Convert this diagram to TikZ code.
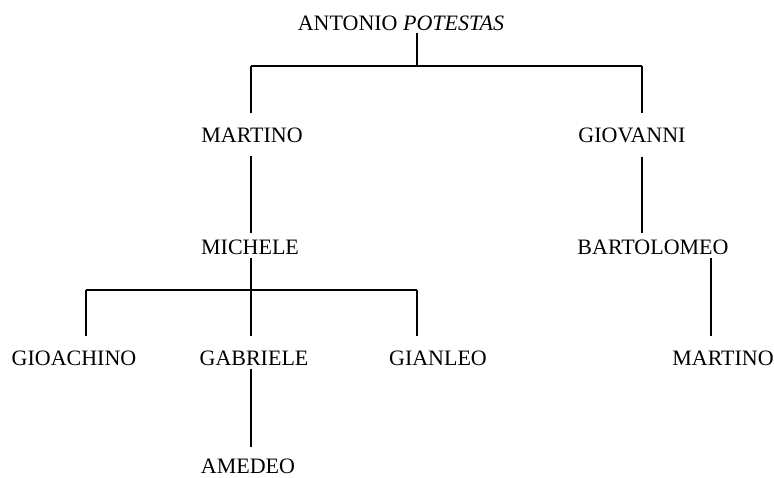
\documentclass[tikz,border=0pt]{standalone}
\usepackage{fontspec}
\setmainfont{Liberation Serif}
\begin{document}
\begin{tikzpicture}[x=1pt,y=-1pt,
  person/.style={font=\fontsize{22}{26}\selectfont, inner sep=0pt, anchor=base},
  link/.style={line width=1.3pt}]
\useasboundingbox (0,0) rectangle (774,477);

% family members
\node[person] (antonio)    at (401,30)  {ANTONIO \textit{POTESTAS}};
\node[person] (martinoA)   at (252,142) {MARTINO};
\node[person] (giovanni)   at (632,142) {GIOVANNI};
\node[person] (michele)    at (250,254) {MICHELE};
\node[person] (bartolomeo) at (653,254) {BARTOLOMEO};
\node[person] (gioachino)  at (74,365)  {GIOACHINO};
\node[person] (gabriele)   at (254,365) {GABRIELE};
\node[person] (gianleo)    at (438,365) {GIANLEO};
\node[person] (martinoB)   at (723,365) {MARTINO};
\node[person] (amedeo)     at (248,473.5) {AMEDEO};

% junction points of the branches
\coordinate (jTop)  at (417,66);
\coordinate (jTopL) at (251,66);
\coordinate (jTopR) at (642,66);
\coordinate (jMid)  at (251,290);
\coordinate (jMidL) at (86,290);
\coordinate (jMidR) at (417,290);
\coordinate (colB)  at (711,290);

% Antonio's sons
\draw[link] ([yshift=-3pt]antonio.south -| jTop) -- (jTop);
\draw[link] (jTopL) -- (jTopR);
\draw[link] (jTopL) -- ([yshift=14pt]martinoA.north -| jTopL);
\draw[link] (jTopR) -- ([yshift=14pt]giovanni.north -| jTopR);

% Martino's line
\draw[link] ([yshift=-14pt]martinoA.south -| jMid) -- ([yshift=6pt]michele.north -| jMid);
\draw[link] ([yshift=-4pt]michele.south -| jMid) -- ([yshift=14pt]gabriele.north -| jMid);
\draw[link] (jMidL) -- (jMidR);
\draw[link] (jMidL) -- ([yshift=14pt]gioachino.north -| jMidL);
\draw[link] (jMidR) -- ([yshift=14pt]gianleo.north -| jMidR);
\draw[link] ([yshift=-4pt]gabriele.south -| jMid) -- ([yshift=11.5pt]amedeo.north -| jMid);

% Giovanni's line
\draw[link] ([yshift=-14pt]giovanni.south -| jTopR) -- ([yshift=6pt]bartolomeo.north -| jTopR);
\draw[link] ([yshift=-4pt]bartolomeo.south -| colB) -- ([yshift=14pt]martinoB.north -| colB);
\end{tikzpicture}
\end{document}
